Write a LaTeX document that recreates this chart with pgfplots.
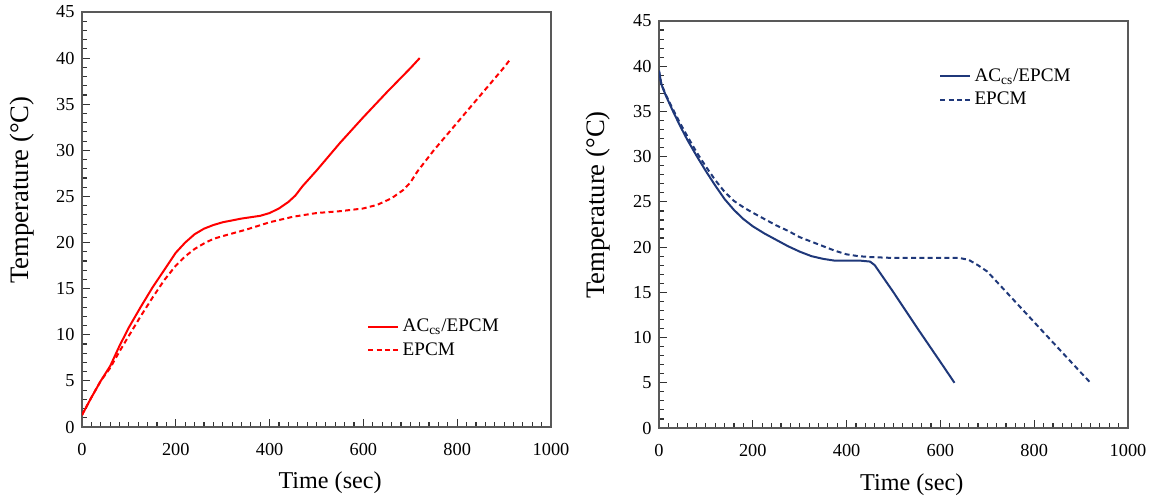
\documentclass[border=0pt]{standalone}
\usepackage{fontspec}
\setmainfont{Liberation Serif}
\usepackage{pgfplots}
\pgfplotsset{compat=1.18}
\definecolor{navy}{RGB}{31,56,122}

\pgfplotsset{tempax/.style={
  scale only axis, width=281.4pt,
  xmin=0, xmax=1000, ymin=0, ymax=45,
  xtick={0,200,...,1000}, ytick={0,5,...,45},
  minor x tick num=9, minor y tick num=4,
  tick pos=left, tick align=inside,
  major tick length=4.5pt, minor tick length=3pt,
  axis line style={black!65, line width=1pt},
  every tick/.style={black!80, line width=0.7pt},
  tick label style={font=\fontsize{11}{12}\selectfont},
  x tick label style={yshift=-6.5pt},
  y tick label style={xshift=-1pt},
  /pgf/number format/assume math mode=true,
  /pgf/number format/1000 sep={},
  xlabel={Time (sec)}, ylabel={Temperature (°C)},
  xlabel style={font=\fontsize{14.5}{16}\selectfont, anchor=center},
  ylabel style={font=\fontsize{16}{18}\selectfont, anchor=center},
  legend style={draw=none, fill=none, anchor=north west,
    font=\fontsize{11.5}{13}\selectfont, row sep=1pt, cells={anchor=west}},
  legend image code/.code={\draw[#1] (0pt,0pt) -- (18pt,0pt);},
}}

\begin{document}
\begin{tikzpicture}
\path (0,0) rectangle (693pt,300.6pt);

% heating
\begin{axis}[tempax, height=249pt, at={(49.2pt,44.4pt)}, anchor=south west,
  xlabel style={at={(axis description cs:0.529,-0.135)}},
  ylabel style={at={(axis description cs:-0.128,0.571)}},
  legend style={at={(axis description cs:0.597,0.277)}}]
\addplot[red, line width=1.2pt] coordinates {
  (0,1.3)(20,3.2)(40,5.0)(60,6.6)(80,8.8)(100,10.8)(125,13.0)(150,15.1)
  (175,17.0)(200,18.9)(220,20.0)(240,20.9)(260,21.5)(280,21.9)(300,22.2)
  (340,22.6)(380,22.9)(400,23.2)(420,23.7)(440,24.4)(455,25.1)(470,26.1)
  (500,27.8)(525,29.3)(550,30.8)(575,32.2)(600,33.6)(650,36.3)(700,38.9)(720,40.0)};
\addlegendentry{AC\textsubscript{cs}/EPCM}
\addplot[red, line width=1.2pt, dash pattern=on 3pt off 2pt] coordinates {
  (0,1.3)(20,3.2)(40,5.0)(60,6.4)(80,8.2)(100,9.9)(125,12.0)(150,14.0)
  (175,15.9)(200,17.5)(220,18.5)(240,19.3)(260,19.9)(280,20.4)(300,20.7)
  (350,21.4)(400,22.2)(450,22.8)(500,23.2)(550,23.4)(600,23.7)(630,24.1)
  (660,24.8)(685,25.7)(700,26.5)(715,27.7)(750,30.0)(800,33.0)(850,36.0)
  (900,39.0)(915,40.0)};
\addlegendentry{EPCM}
\end{axis}

% cooling
\begin{axis}[tempax, height=244.2pt, at={(395.4pt,43.8pt)}, anchor=south west,
  xlabel style={at={(axis description cs:0.539,-0.14)}},
  ylabel style={at={(axis description cs:-0.13,0.548)}},
  legend style={at={(axis description cs:0.586,0.9)}}]
\addplot[navy, line width=1.2pt] coordinates {
  (0,39.5)(5,38.0)(15,36.7)(30,35.0)(45,33.4)(60,31.9)(80,30.1)(100,28.4)
  (120,26.8)(140,25.3)(160,24.1)(180,23.1)(200,22.3)(225,21.5)(250,20.8)
  (275,20.1)(300,19.5)(325,19.0)(350,18.7)(375,18.5)(400,18.5)(430,18.5)
  (450,18.4)(460,18.0)(480,16.5)(500,15.0)(550,11.1)(600,7.3)(630,5.0)};
\addlegendentry{AC\textsubscript{cs}/EPCM}
\addplot[navy, line width=1.2pt, dash pattern=on 3pt off 2pt] coordinates {
  (0,39.5)(5,38.0)(15,36.8)(30,35.2)(45,33.7)(60,32.3)(80,30.5)(100,28.9)
  (120,27.4)(140,26.1)(160,25.1)(180,24.4)(200,23.8)(225,23.1)(250,22.4)
  (275,21.8)(300,21.1)(325,20.6)(350,20.1)(375,19.6)(400,19.2)(425,19.0)
  (450,18.9)(500,18.8)(550,18.8)(600,18.8)(640,18.8)(660,18.6)(680,18.0)
  (700,17.3)(750,14.5)(800,11.7)(850,8.9)(900,6.1)(920,5.0)};
\addlegendentry{EPCM}
\end{axis}
\end{tikzpicture}
\end{document}
